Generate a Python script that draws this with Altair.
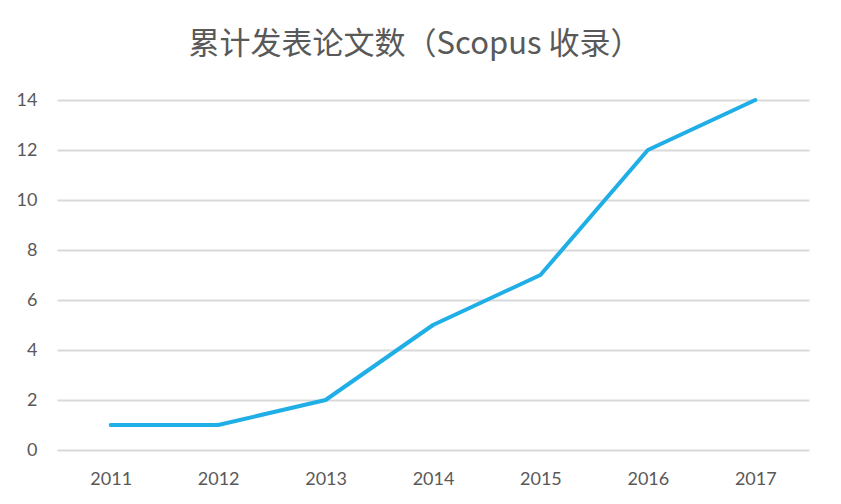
import altair as alt
import pandas as pd

years = ["2011", "2012", "2013", "2014", "2015", "2016", "2017"]
counts = [1, 1, 2, 5, 7, 12, 14]
y_ticks = [0, 2, 4, 6, 8, 10, 12, 14]

df = pd.DataFrame({"year": years, "count": counts})

chart = alt.Chart(df).mark_line(
    color="#1FAEE6", strokeWidth=4, strokeCap="round", strokeJoin="round"
).encode(
    x=alt.X("year:O", scale=alt.Scale(type="point", padding=0.5), sort=years,
            axis=alt.Axis(title=None, labelAngle=0, domain=False, ticks=False,
                          grid=False, labelPadding=20, labelFontSize=18,
                          labelColor="#595959", labelFont="Lato")),
    y=alt.Y("count:Q", scale=alt.Scale(domain=[0, 14], nice=False),
            axis=alt.Axis(title=None, values=y_ticks, domain=False, ticks=False,
                          gridColor="#D9D9D9", gridWidth=2, labelPadding=20,
                          labelFontSize=18, labelColor="#595959", labelFont="Lato")),
).properties(
    width=752,
    height=350,
    padding={"left": 49, "top": 92, "right": 10, "bottom": 50},
    autosize=alt.AutoSizeParams(type="none"),
    title=alt.TitleParams(
        "累计发表论文数（Scopus 收录）", font="Noto Sans CJK SC", fontSize=31,
        fontWeight="normal", color="#595959", anchor="middle", dx=-18, offset=30
    ),
).configure_view(stroke=None)

chart.save("out.html", embed_options={"renderer": "svg", "actions": False})
